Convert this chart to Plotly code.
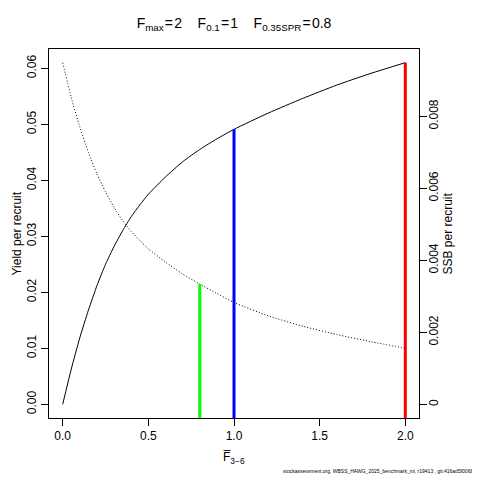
import plotly.graph_objects as go

# ---- data ----
F_values = [0, 0.05, 0.1, 0.15, 0.2, 0.25, 0.3, 0.35, 0.4, 0.45, 0.5, 0.6, 0.7, 0.8, 0.9, 1.0,
            1.2, 1.4, 1.6, 1.8, 2.0]
yield_per_recruit = [0, 0.0063, 0.0119, 0.0168, 0.0212, 0.0250, 0.0282, 0.0310, 0.0335, 0.0356,
                     0.0375, 0.0406, 0.0433, 0.0455, 0.0474, 0.0491,
                     0.0520, 0.0546, 0.0570, 0.0591, 0.0610]
ssb_per_recruit = [0.00949, 0.00852, 0.00770, 0.00700, 0.00640, 0.00590, 0.00547, 0.00510, 0.00480,
                   0.00455, 0.00432, 0.00395, 0.00362, 0.00334, 0.00308, 0.00283,
                   0.00246, 0.00217, 0.00194, 0.00174, 0.00156]

ref_names = ["max", "0.1", "0.35SPR"]
ref_F = [2.0, 1.0, 0.8]
ref_colors = ["#FF0000", "#0000FF", "#00FF00"]
ref_on_ssb = [False, False, True]

x_ticks = [0.0, 0.5, 1.0, 1.5, 2.0]
y_ticks = [0.00, 0.01, 0.02, 0.03, 0.04, 0.05, 0.06]
y2_ticks = [0, 0.002, 0.004, 0.006, 0.008]
x_label = "F\u0305<sub>3\u22126</sub>"
y_label = "Yield per recruit"
y2_label = "SSB per recruit"
footer = "stockassessment.org, WBSS_HAWG_2025_benchmark_ini, r19413 , git:416ad5f00682"


def r_range(vals):
    lo, hi = min(vals), max(vals)
    pad = 0.04 * (hi - lo)
    return [lo - pad, hi + pad]


xr = r_range(F_values)
yr = r_range([0] + yield_per_recruit)
y2r = r_range([0] + ssb_per_recruit)

FONT = "Liberation Sans, Arial, Helvetica, sans-serif"

# the page body adds an 8px margin around the figure; work in page pixels
OFF = 8
FIG = 480 - OFF
L, R, T, B = 49 - OFF, 419 - OFF, 49 - OFF, 418 - OFF
PW, PH = R - L, B - T


def px_x(px):
    return (px - OFF - L) / PW


def px_y(py):
    return (B - (py - OFF)) / PH


fig = go.Figure()
fig.add_trace(go.Scatter(x=F_values, y=yield_per_recruit, mode="lines",
                         line=dict(color="black", width=1, shape="spline", smoothing=0.6),
                         showlegend=False, hoverinfo="skip"))
fig.add_trace(go.Scatter(x=F_values, y=ssb_per_recruit, mode="lines", yaxis="y2",
                         line=dict(color="black", width=1, dash="1px,2px", shape="spline", smoothing=0.6),
                         showlegend=False, hoverinfo="skip"))

for f, col, on_ssb in zip(ref_F, ref_colors, ref_on_ssb):
    i = F_values.index(f)
    if on_ssb:
        fig.add_trace(go.Scatter(x=[f, f], y=[y2r[0], ssb_per_recruit[i]], mode="lines", yaxis="y2",
                                 line=dict(color=col, width=3), showlegend=False, hoverinfo="skip"))
    else:
        fig.add_trace(go.Scatter(x=[f, f], y=[yr[0], yield_per_recruit[i]], mode="lines",
                                 line=dict(color=col, width=3), showlegend=False, hoverinfo="skip"))

sp = "\u00a0" * 4
title = sp.join(f"F<sub>{n}</sub>\u200a=\u200a{f:g}" for n, f in zip(ref_names, ref_F))

axis_common = dict(showgrid=False, zeroline=False, showline=True, linecolor="black", linewidth=1,
                   ticks="outside", ticklen=7, tickcolor="black", tickwidth=1, automargin=False,
                   tickfont=dict(size=12, color="black", family=FONT))

fig.update_layout(
    width=FIG, height=FIG,
    margin=dict(l=L, r=FIG - R, t=T, b=FIG - B, autoexpand=False),
    paper_bgcolor="white", plot_bgcolor="white",
    font=dict(family=FONT, color="black", size=12),
    title=dict(text=title, x=0.5, xref="paper", y=1 - (23 - OFF) / FIG, yref="container",
               yanchor="middle", xanchor="center", font=dict(size=14, family=FONT, color="black")),
    xaxis=dict(range=xr, tickvals=x_ticks, tickformat=".1f", mirror=True, **axis_common),
    yaxis=dict(range=yr, tickvals=y_ticks, tickformat=".2f", tickangle=-90, mirror=False,
               **axis_common),
    yaxis2=dict(range=y2r, tickvals=y2_ticks, tickangle=-90, overlaying="y", side="right",
                ticklabelstandoff=-3, **axis_common),
    annotations=[
        dict(text=x_label, xref="paper", yref="paper", x=0.5, y=px_y(458), xanchor="center",
             yanchor="middle", showarrow=False, font=dict(size=12)),
        dict(text=y_label, xref="paper", yref="paper", x=px_x(16), y=0.5, xanchor="center",
             yanchor="middle", textangle=-90, showarrow=False, font=dict(size=12)),
        dict(text=y2_label, xref="paper", yref="paper", x=px_x(447), y=0.5, xanchor="center",
             yanchor="middle", textangle=-90, showarrow=False, font=dict(size=12)),
        dict(text=footer, xref="paper", yref="paper", x=px_x(478), y=px_y(471),
             xanchor="right", yanchor="middle", showarrow=False,
             font=dict(size=5, family=FONT, color="black")),
    ],
)

fig.write_html("out.html")
